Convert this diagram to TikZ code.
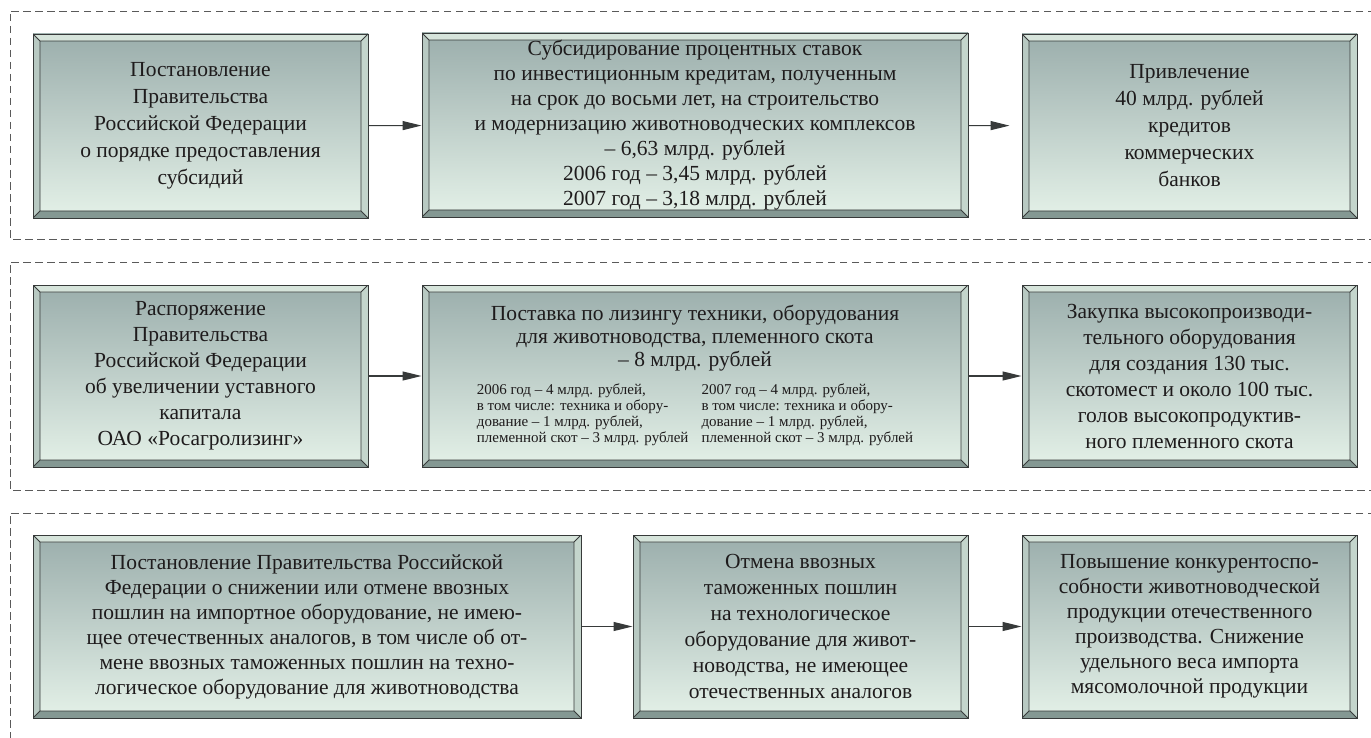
\documentclass[tikz,border=0pt]{standalone}
\usepackage{fontspec}
\setmainfont{Liberation Serif}
\usetikzlibrary{arrows.meta}
\definecolor{gtop}{RGB}{155,174,172}
\definecolor{gbot}{RGB}{228,241,232}
\definecolor{bvT}{RGB}{214,228,219}
\definecolor{bvL}{RGB}{184,201,194}
\definecolor{bvR}{RGB}{196,213,204}
\definecolor{bvB}{RGB}{132,152,147}
\definecolor{edge}{RGB}{55,58,58}
\definecolor{txt}{RGB}{30,27,28}
\definecolor{frame}{RGB}{90,90,90}
\newcommand{\bw}{7pt}
\tikzset{
  bev/.style={rectangle, draw=edge, line width=0.9pt, top color=gtop, bottom color=gbot,
    inner sep=0pt, align=center, text=txt,
    path picture={
      \path (path picture bounding box.north west) coordinate (pA)
            (path picture bounding box.north east) coordinate (pB)
            (path picture bounding box.south east) coordinate (pC)
            (path picture bounding box.south west) coordinate (pD);
      \path ([xshift=\bw,yshift=-\bw]pA) coordinate (qA)
            ([xshift=-\bw,yshift=-\bw]pB) coordinate (qB)
            ([xshift=-\bw,yshift=\bw]pC) coordinate (qC)
            ([xshift=\bw,yshift=\bw]pD) coordinate (qD);
      \fill[bvT] (pA)--(pB)--(qB)--(qA)--cycle;
      \fill[bvR] (pB)--(pC)--(qC)--(qB)--cycle;
      \fill[bvB] (pC)--(pD)--(qD)--(qC)--cycle;
      \fill[bvL] (pD)--(pA)--(qA)--(qD)--cycle;
      \draw[edge, line width=0.8pt] (qA)--(qB)--(qC)--(qD)--cycle
        (pA)--(qA) (pB)--(qB) (pC)--(qC) (pD)--(qD);
    }},
  fA/.style={font=\fontsize{21.5}{27}\selectfont},
  fB/.style={font=\fontsize{21.5}{25}\selectfont},
  fC/.style={font=\fontsize{21.5}{26}\selectfont},
  conn/.style={draw=edge, line width=1.1pt, -{Triangle[length=19pt,width=9pt]}},
  dframe/.style={draw=frame, line width=0.8pt, dash pattern=on 7.5pt off 4.5pt}
}
\begin{document}
\begin{tikzpicture}[x=1pt,y=-1pt]
\useasboundingbox (0,0) rectangle (1371,738);
\fill[white] (0,0) rectangle (1371,738);
% dashed frames (open on the right)
\draw[dframe] (1375,11) -- (10,11) -- (10,239) -- (1375,239);
\draw[dframe] (1375,262) -- (10,262) -- (10,490) -- (1375,490);
\draw[dframe] (1375,513) -- (10,513) -- (10,742);
% row 1
\node[bev, fA, minimum width=335pt, minimum height=184pt] (a1) at (200.5,126)
  {Постановление\\Правительства\\Российской Федерации\\о порядке предоставления\\субсидий};
\node[bev, fB, minimum width=546pt, minimum height=184pt] (a2) at (695,125)
  {Субсидирование процентных ставок\\по инвестиционным кредитам, полученным\\на срок до восьми лет, на строительство\\и модернизацию животноводческих комплексов\\– 6,63 млрд. рублей\\2006 год – 3,45 млрд. рублей\\2007 год – 3,18 млрд. рублей};
\node[bev, fA, minimum width=335pt, minimum height=184pt] (a3) at (1189.5,126)
  {Привлечение\\40 млрд. рублей\\кредитов\\коммерческих\\банков};
% row 2
\node[bev, fC, minimum width=335pt, minimum height=182pt] (b1) at (200.5,376)
  {Распоряжение\\Правительства\\Российской Федерации\\об увеличении уставного\\капитала\\ОАО «Росагролизинг»};
\node[bev, font=\fontsize{21.5}{23}\selectfont, minimum width=546pt, minimum height=182pt] (b2) at (695,376)
  {Поставка по лизингу техники, оборудования\\для животноводства, племенного скота\\– 8 млрд. рублей\\[11pt]
   {\fontsize{15}{16}\selectfont\begin{tabular}{@{}l@{\hspace{13pt}}l@{}}
   2006 год – 4 млрд. рублей, & 2007 год – 4 млрд. рублей,\\
   в том числе: техника и обору- & в том числе: техника и обору-\\
   дование – 1 млрд. рублей, & дование – 1 млрд. рублей,\\
   племенной скот – 3 млрд. рублей & племенной скот – 3 млрд. рублей
   \end{tabular}}};
\node[bev, fC, minimum width=335pt, minimum height=182pt] (b3) at (1189.5,376)
  {Закупка высокопроизводи-\\тельного оборудования\\для создания 130 тыс.\\скотомест и около 100 тыс.\\голов высокопродуктив-\\ного племенного скота};
% row 3
\node[bev, fB, minimum width=548pt, minimum height=183pt] (c1) at (307,626.5)
  {Постановление Правительства Российской\\Федерации о снижении или отмене ввозных\\пошлин на импортное оборудование, не имею-\\щее отечественных аналогов, в том числе об от-\\мене ввозных таможенных пошлин на техно-\\логическое оборудование для животноводства};
\node[bev, fC, minimum width=335pt, minimum height=183pt] (c2) at (800.5,626.5)
  {Отмена ввозных\\таможенных пошлин\\на технологическое\\оборудование для живот-\\новодства, не имеющее\\отечественных аналогов};
\node[bev, fB, minimum width=335pt, minimum height=183pt] (c3) at (1189.5,626.5)
  {Повышение конкурентоспо-\\собности животноводческой\\продукции отечественного\\производства. Снижение\\удельного веса импорта\\мясомолочной продукции};
% connectors
\draw[conn] (a1) -- (a2);
\draw[conn, shorten >=12pt] (a2) -- (a3);
\draw[conn] (b1) -- (b2);
\draw[conn] (b2) -- (b3);
\draw[conn] (c1) -- (c2);
\draw[conn] (c2) -- (c3);
\end{tikzpicture}
\end{document}
